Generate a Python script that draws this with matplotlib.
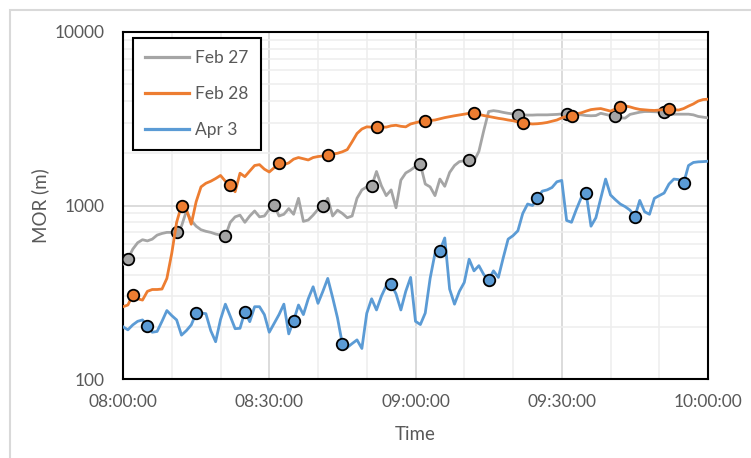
import numpy as np
import matplotlib
matplotlib.use("Agg")
import matplotlib.pyplot as plt
from matplotlib.lines import Line2D
from matplotlib.patches import Rectangle
from matplotlib.ticker import FixedLocator, NullFormatter

plt.rcParams['font.family'] = ['Lato', 'DejaVu Sans']

# one reading per minute, 08:00 .. 10:00
minutes = np.arange(121)

feb27 = [
    460, 490, 560, 610, 635, 625, 640, 675, 690, 700,
    700, 700, 760, 930, 820, 760, 725, 710, 700, 685,
    675, 665, 800, 860, 880, 800, 870, 930, 860, 870,
    950, 1010, 870, 890, 960, 890, 1100, 810, 825, 880,
    950, 990, 1100, 870, 940, 900, 850, 870, 1100, 1230,
    1280, 1290, 1570, 1300, 1140, 1230, 970, 1400, 1540, 1600,
    1680, 1730, 1330, 1280, 1140, 1420, 1290, 1550, 1700, 1790,
    1810, 1830, 1800, 2050, 2700, 3480, 3520, 3490, 3440, 3400,
    3370, 3330, 3330, 3320, 3320, 3330, 3330, 3330, 3340, 3350,
    3370, 3360, 3380, 3350, 3330, 3300, 3290, 3300, 3400, 3350,
    3300, 3300, 3200, 3190, 3350, 3400, 3450, 3480, 3480, 3470,
    3460, 3440, 3380, 3360, 3360, 3360, 3360, 3330, 3260, 3230,
    3200]

feb28 = [
    261, 267, 305, 290, 285, 320, 328, 328, 330, 380,
    530, 800, 1000, 950, 780, 1050, 1280, 1343, 1380, 1430,
    1490, 1380, 1310, 1200, 1535, 1466, 1580, 1700, 1720, 1620,
    1560, 1650, 1767, 1720, 1760, 1850, 1890, 1860, 1830, 1890,
    1915, 1930, 1955, 1980, 2000, 2040, 2100, 2330, 2600, 2760,
    2840, 2830, 2820, 2830, 2830, 2880, 2900, 2860, 2840, 2950,
    3000, 3050, 3080, 3090, 3110, 3160, 3210, 3250, 3290, 3325,
    3360, 3400, 3425, 3350, 3300, 3260, 3220, 3180, 3150, 3110,
    3080, 3030, 2990, 2970, 2950, 2960, 2980, 3010, 3060, 3110,
    3200, 3260, 3280, 3380, 3420, 3500, 3570, 3600, 3620, 3560,
    3500, 3600, 3680, 3750, 3700, 3630, 3580, 3560, 3540, 3530,
    3550, 3570, 3580, 3560, 3550, 3620, 3740, 3850, 4000, 4080,
    4100]

apr3 = [
    200, 192, 205, 215, 219, 203, 186, 188, 215, 248,
    232, 219, 179, 190, 205, 239, 240, 238, 190, 164,
    220, 270, 230, 195, 196, 244, 214, 261, 261, 235,
    186, 209, 235, 270, 182, 217, 267, 235, 290, 340,
    273, 320, 380, 295, 225, 159, 152, 160, 168, 150,
    239, 290, 250, 300, 345, 351, 310, 250, 320, 385,
    215, 206, 240, 380, 530, 550, 650, 330, 270, 320,
    360, 490, 420, 450, 400, 372, 420, 385, 500, 640,
    670, 715, 900, 1020, 1000, 1100, 1210, 1230, 1270, 1370,
    1395, 820, 800, 950, 1110, 1175, 760, 850, 1100, 1420,
    1150, 1080, 1020, 985, 940, 862, 1070, 920, 890, 1100,
    1140, 1180, 1330, 1420, 1410, 1343, 1700, 1770, 1785, 1790,
    1800]

series = [("Feb 27", feb27, "#A5A5A5", 1),
          ("Feb 28", feb28, "#ED7D31", 2),
          ("Apr 3", apr3, "#5B9BD5", 5)]

tick_min = [0, 30, 60, 90, 120]
tick_lbl = ["08:00:00", "08:30:00", "09:00:00", "09:30:00", "10:00:00"]

fig = plt.figure(figsize=(7.51, 4.58), dpi=100)
ax = fig.add_axes([123 / 751, 1 - 379 / 458, 585 / 751, 347 / 458])

z = 3
for name, vals, col, off in series:
    v = np.array(vals, dtype=float)
    ax.plot(minutes, v, color=col, lw=2.0, zorder=z)
    ax.plot(minutes[off::10], v[off::10], 'o', ms=8.3, mfc=col,
            mec='black', mew=1.3, zorder=z + 0.5)
    z += 1

ax.set_yscale('log')
ax.set_xlim(0, 120)
ax.set_ylim(100, 10000)
ax.set_xticks(tick_min)
ax.set_xticklabels(tick_lbl)
ax.xaxis.set_minor_locator(FixedLocator([m for m in range(0, 121, 10) if m % 30]))
ax.set_yticks([100, 1000, 10000])
ax.set_yticklabels(["100", "1000", "10000"])
ax.yaxis.set_minor_formatter(NullFormatter())
ax.tick_params(which='both', length=0, labelsize=12.5, labelcolor='#595959')
ax.tick_params(axis='x', pad=11)
ax.tick_params(axis='y', pad=13)

ax.grid(which='major', color='#d9d9d9', lw=1.3, zorder=0)
ax.grid(which='minor', color='#eeeeee', lw=1.1, zorder=0)
ax.set_axisbelow(True)
for s in ax.spines.values():
    s.set_linewidth(1.5)
    s.set_color('black')

ax.set_xlabel("Time", fontsize=13.5, color='#595959', va='center')
ax.xaxis.set_label_coords(0.5, -0.161)
ax.set_ylabel("MOR (m)", fontsize=13.5, color='#595959', va='center')
ax.yaxis.set_label_coords(-0.142, 0.5)

handles = [Line2D([], [], color=c, lw=2.3) for _, _, c, _ in series]
leg = ax.legend(handles, [s[0] for s in series], loc='upper left',
                bbox_to_anchor=(0.017, 0.983), borderaxespad=0,
                fontsize=12.5, fancybox=False, edgecolor='black',
                framealpha=1, handlelength=2.5, handletextpad=0.4,
                labelspacing=1.15, borderpad=0.7)
leg.get_frame().set_linewidth(1.5)
for t in leg.get_texts():
    t.set_color('#595959')
leg.set_zorder(10)

fig.add_artist(Rectangle((9.5 / 751, -0.1), 2, 1.1 - 10 / 458,
                         transform=fig.transFigure, fill=False,
                         ec='#d9d9d9', lw=1.5))

fig.savefig("out.png", dpi=100)
